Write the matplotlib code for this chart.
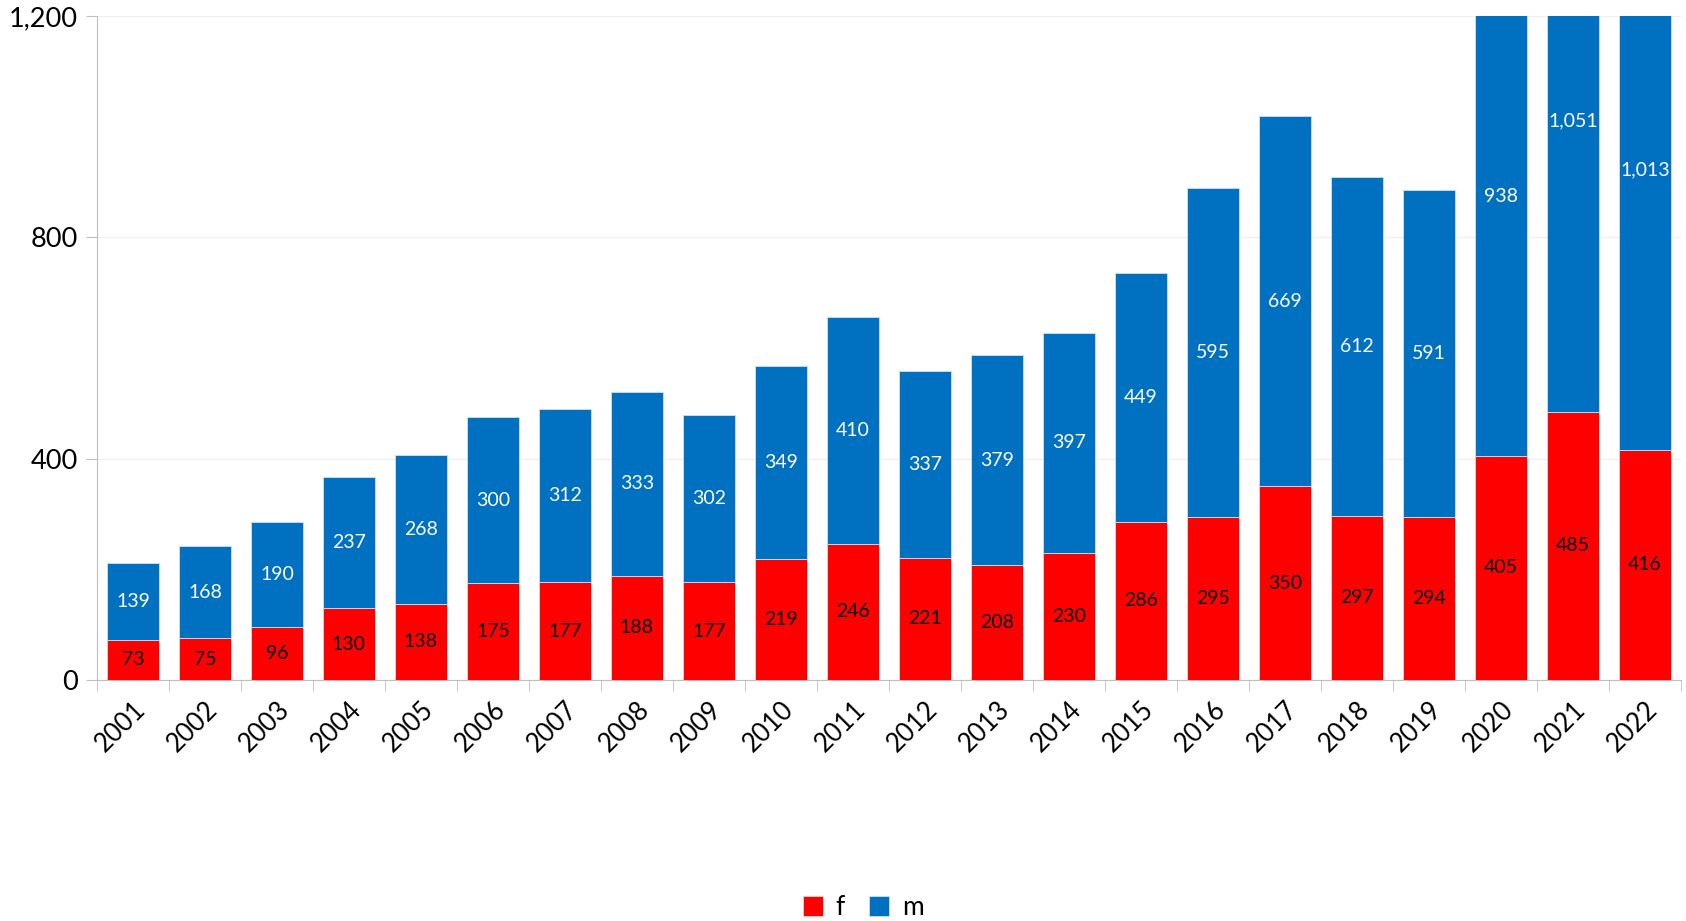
import numpy as np
import matplotlib.pyplot as plt
from matplotlib.ticker import FuncFormatter

plt.rcParams['font.family'] = ['Lato', 'DejaVu Sans']

years = [str(y) for y in range(2001, 2023)]
f_vals = [73, 75, 96, 130, 138, 175, 177, 188, 177, 219, 246, 221, 208, 230,
          286, 295, 350, 297, 294, 405, 485, 416]
m_vals = [139, 168, 190, 237, 268, 300, 312, 333, 302, 349, 410, 337, 379, 397,
          449, 595, 669, 612, 591, 938, 1051, 1013]

RED = '#ff0000'
BLUE = '#0070c0'

fig = plt.figure(figsize=(16.86, 9.21), dpi=100)
ax = fig.add_axes([0.0575, 0.2617, 0.9395, 0.7209])

x = np.arange(len(years))
f_arr = np.array(f_vals)
m_arr = np.array(m_vals)
bw = 0.71

ax.bar(x, f_arr, bw, color=RED, edgecolor='#ffd0d0', linewidth=0.6, label='f', zorder=3)
ax.bar(x, m_arr, bw, bottom=f_arr, color=BLUE, edgecolor='#cfe0f0', linewidth=0.6,
       label='m', zorder=3)

# etiquetas centradas en cada segmento
for i in range(len(years)):
    ax.text(x[i], f_arr[i] / 2, f'{f_arr[i]:,}', ha='center', va='center',
            fontsize=14, color='black', zorder=4)
    ax.text(x[i], f_arr[i] + m_arr[i] / 2, f'{m_arr[i]:,}', ha='center',
            va='center', fontsize=14, color='white', zorder=4, clip_on=True)

ax.set_xlim(-0.5, len(years) - 0.5)
ax.set_ylim(0, 1200)
ax.set_yticks([0, 400, 800, 1200])
ax.yaxis.set_major_formatter(FuncFormatter(lambda v, p: f'{int(v):,}'))
ax.grid(axis='y', color='#f0f0f0', linewidth=1, zorder=0)

ax.set_xticks(x)
ax.set_xticklabels(years, rotation=45, ha='right', rotation_mode='anchor')
ax.set_xticks(np.arange(-0.5, len(years)), minor=True)
ax.tick_params(axis='x', which='major', length=0, labelsize=18.5, pad=12)
ax.tick_params(axis='x', which='minor', length=8, color='#bfbfbf')
ax.tick_params(axis='y', length=8, color='#bfbfbf', labelsize=19.5, pad=6)

for s in ['top', 'right']:
    ax.spines[s].set_visible(False)
for s in ['left', 'bottom']:
    ax.spines[s].set_color('#bfbfbf')

fig.legend(loc='lower center', bbox_to_anchor=(0.512, -0.025), ncol=2, frameon=False,
           fontsize=19, handlelength=0.75, handleheight=0.75, columnspacing=0.9,
           handletextpad=0.5)

fig.savefig('out.png', dpi=100)
